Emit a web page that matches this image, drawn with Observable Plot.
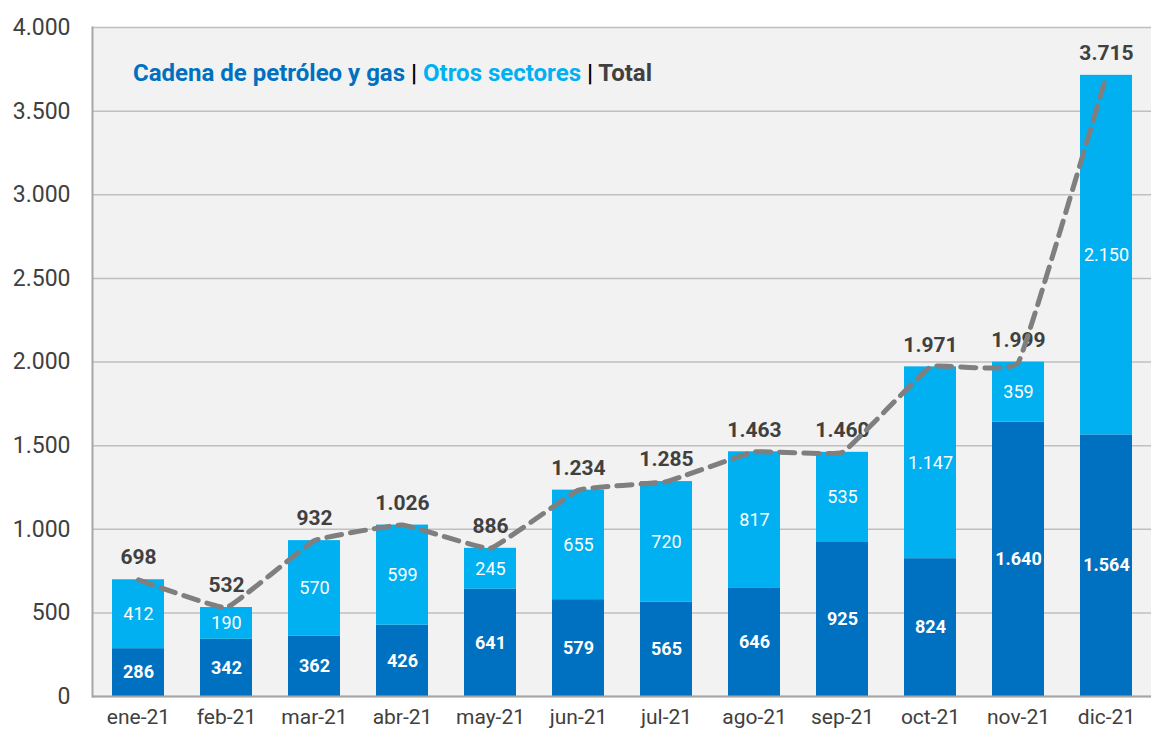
<!DOCTYPE html>
<html>
<head>
<meta charset="utf-8">
<script src="https://cdn.jsdelivr.net/npm/d3@7"></script>
<script src="https://cdn.jsdelivr.net/npm/@observablehq/plot@0.6"></script>
<style>
  html, body { margin: 0; padding: 0; background: #fff; }
  svg { display: block; }
</style>
</head>
<body>
<div id="chart"></div>
<script>
const months = ["ene-21","feb-21","mar-21","abr-21","may-21","jun-21","jul-21","ago-21","sep-21","oct-21","nov-21","dic-21"];
const petroleo = [286,342,362,426,641,579,565,646,925,824,1640,1564];
const otros = [412,190,570,599,245,655,720,817,535,1147,359,2150];
const totals = [698,532,932,1026,886,1234,1285,1463,1460,1971,1999,3715];
const yTicks = [0,500,1000,1500,2000,2500,3000,3500,4000];

const locale = d3.formatLocale({decimal: ",", thousands: ".", grouping: [3], currency: ["", ""]});
const fmt = locale.format(",d");

const rows = months.map((m, i) => ({month: m, dark: petroleo[i], light: otros[i], total: totals[i]}));

const DARK = "#0070c0", LIGHT = "#00b0f0";
const FONT = "Roboto, 'Liberation Sans', sans-serif";

const chart = Plot.plot({
  width: 1151,
  height: 734,
  marginLeft: 92,
  marginRight: 0,
  marginTop: 27,
  marginBottom: 38,
  style: {fontFamily: FONT, background: "#ffffff"},
  x: {domain: months, paddingInner: 0.41, paddingOuter: 0.205, label: null},
  y: {domain: [0, 4000], label: null},
  marks: [
    Plot.frame({fill: "#f2f2f2", stroke: null}),
    Plot.gridY(yTicks, {stroke: "#bfbfbf", strokeOpacity: 1, strokeWidth: 1.5}),
    Plot.frame({anchor: "left", stroke: "#a6a6a6", strokeWidth: 2}),
    Plot.axisY({ticks: yTicks, tickSize: 0, tickPadding: 22, tickFormat: fmt, fontSize: 23, fill: "#404040", label: null}),
    Plot.axisX({tickSize: 0, tickPadding: 13, fontSize: 21, fill: "#404040", label: null}),
    Plot.barY(rows, {x: "month", y1: 0, y2: "dark", fill: DARK}),
    Plot.barY(rows, {x: "month", y1: "dark", y2: d => d.dark + d.light, fill: LIGHT}),
    Plot.ruleY([0], {stroke: "#a6a6a6", strokeWidth: 2}),
    Plot.text(rows, {x: "month", y: d => d.dark / 2, text: d => fmt(d.dark), fill: "#ffffff", fontSize: 18, fontWeight: "bold"}),
    Plot.text(rows, {x: "month", y: d => d.dark + d.light / 2, text: d => fmt(d.light), fill: "#ffffff", fontSize: 18}),
    Plot.text(rows, {x: "month", y: "total", text: d => fmt(d.total), dy: -22, fill: "#404040", fontSize: 21, fontWeight: "bold"}),
    Plot.lineY(rows, {x: "month", y: "total", curve: "cardinal", tension: 0.75, stroke: "#7f7f7f", strokeWidth: 5, strokeDasharray: "15,9", strokeLinecap: "round"})
  ]
});

const svg = d3.select(chart);
const legend = svg.append("text")
  .attr("x", 133)
  .attr("y", 81)
  .attr("text-anchor", "start")
  .attr("font-family", FONT)
  .attr("font-size", 24)
  .attr("font-weight", "bold");
legend.append("tspan").attr("fill", DARK).text("Cadena de petróleo y gas");
legend.append("tspan").attr("fill", "#000").text(" | ");
legend.append("tspan").attr("fill", LIGHT).text("Otros sectores");
legend.append("tspan").attr("fill", "#000").text(" | ");
legend.append("tspan").attr("fill", "#404040").text("Total");

document.getElementById("chart").appendChild(chart);
</script>
</body>
</html>
